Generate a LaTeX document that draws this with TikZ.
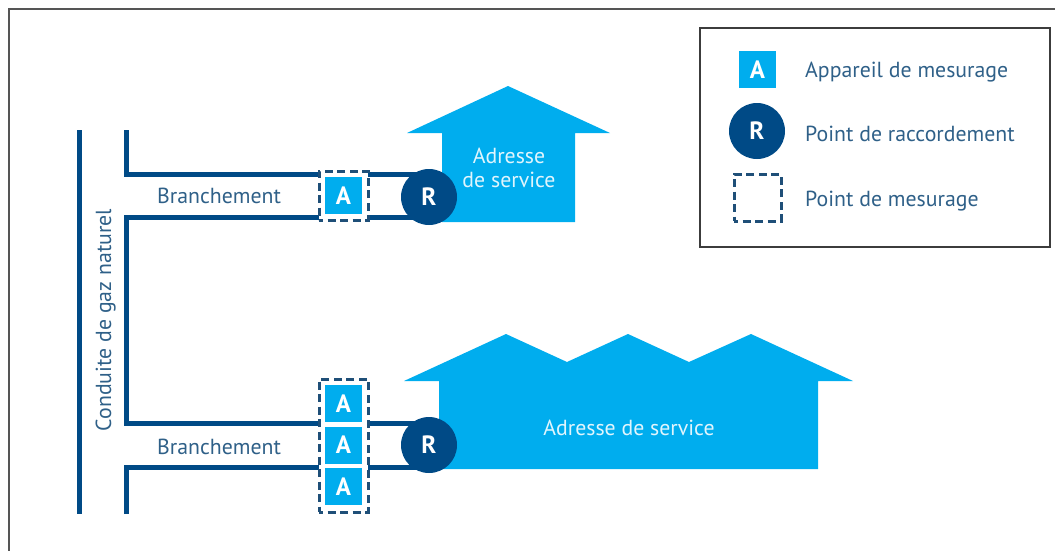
\documentclass[tikz,border=0pt]{standalone}
\usepackage{fontspec}
\setmainfont{PT Sans}
\definecolor{navy}{HTML}{004A86}
\definecolor{sky}{HTML}{00ADEE}
\definecolor{txt}{HTML}{2F6088}
\definecolor{frame}{HTML}{555555}
\definecolor{dashc}{HTML}{1F4F78}
\tikzset{
  x=1pt,y=-1pt,
  pipe/.style={draw=navy,line width=5pt,line cap=butt,line join=miter},
  meter/.style={fill=sky,draw=none,minimum size=37pt,inner sep=0pt,text=white,font=\fontsize{25}{28}\selectfont\bfseries},
  conn/.style={circle,fill=navy,draw=none,minimum size=56pt,inner sep=0pt,text=white,font=\fontsize{25}{28}\selectfont\bfseries},
  dashbox/.style={draw=dashc,line width=3pt,dash pattern=on 8pt off 4.5pt,dash phase=4pt,inner sep=0pt},
  lab/.style={text=txt,font=\fontsize{21.8}{26}\selectfont,inner sep=0pt},
  bldg/.style={fill=sky,draw=none},
  whitelab/.style={text=white!88!sky,font=\fontsize{21.8}{24}\selectfont,inner sep=0pt,align=center},
  outer/.style={draw=frame,line width=2pt}
}
\begin{document}
\begin{tikzpicture}
\useasboundingbox (0,0) rectangle (1055,550);
% outer frame
\coordinate (fa) at (9,552);
\coordinate (fb) at (9,9);
\coordinate (fc) at (1057,9);
\draw[outer] (fa) -- (fb) -- (fc);
% buildings
\fill[bldg] (442,222) -- (442,133) -- (407,133) -- (508,86) -- (610,133) -- (575,133) -- (575,222) -- cycle;
\fill[bldg] (439,469) -- (439,381) -- (404,381) -- (506,334) -- (567,362) -- (628,334) -- (689,362) -- (751,334) -- (853,381) -- (818,381) -- (818,469) -- cycle;
\node[whitelab] (h1) at (509,168) {Adresse\\de service};
\node[whitelab] (h2) at (629,428) {Adresse de service};
% connection points
\coordinate (r1c) at (429,197);
\coordinate (r2c) at (429,445);
% pipe coordinates
\coordinate (m1) at (79,130);
\coordinate (m2) at (79,514);
\coordinate (b1) at (126.5,130);
\coordinate (b2) at (126.5,174);
\coordinate (b3) at (126.5,217);
\coordinate (b4) at (126.5,423);
\coordinate (b5) at (126.5,467);
\coordinate (b6) at (126.5,514);
\draw[pipe] (m1) -- (m2);
\draw[pipe] (b1) -- (b2) -- (r1c |- b2);
\draw[pipe] (b4) -- (b3) -- (r1c |- b3);
\draw[pipe] (b3) -- (b4) -- (r2c |- b4);
\draw[pipe] (b6) -- (b5) -- (r2c |- b5);
\node[conn] (r1) at (r1c) {R};
\node[conn] (r2) at (r2c) {R};
% top meter
\fill[white] (319,171) rectangle (368,220);
\node[meter] (a1) at (343.5,195.5) {A};
\node[dashbox,minimum width=49pt,minimum height=49pt] (d1) at (343.5,195.5) {};
% bottom meters
\fill[white] (319,379) rectangle (368,512);
\node[meter] (a2) at (343.5,403.5) {A};
\node[meter] (a3) at (343.5,445) {A};
\node[meter] (a4) at (343.5,486.5) {A};
\node[dashbox,minimum width=49pt,minimum height=133pt] (d2) at (343.5,445.5) {};
% labels
\node[lab,anchor=base west] (t1) at (157,203) {Branchement};
\node[lab,anchor=base west] (t2) at (157,454) {Branchement};
\node[lab,rotate=90,anchor=base] (t3) at (111,320) {Conduite de gaz naturel};
% legend
\draw[draw=frame!70!black,line width=1.6pt] (700,28) rectangle (1050,247);
\node[meter] (la) at (757.5,69.5) {A};
\node[conn] (lr) at (757,131) {R};
\node[dashbox,minimum width=47pt,minimum height=47pt] (ld) at (757.5,197.5) {};
\node[lab,anchor=base west] (l1) at (805,77) {Appareil de mesurage};
\node[lab,anchor=base west] (l2) at (805,141) {Point de raccordement};
\node[lab,anchor=base west] (l3) at (805,206) {Point de mesurage};
\end{tikzpicture}
\end{document}
